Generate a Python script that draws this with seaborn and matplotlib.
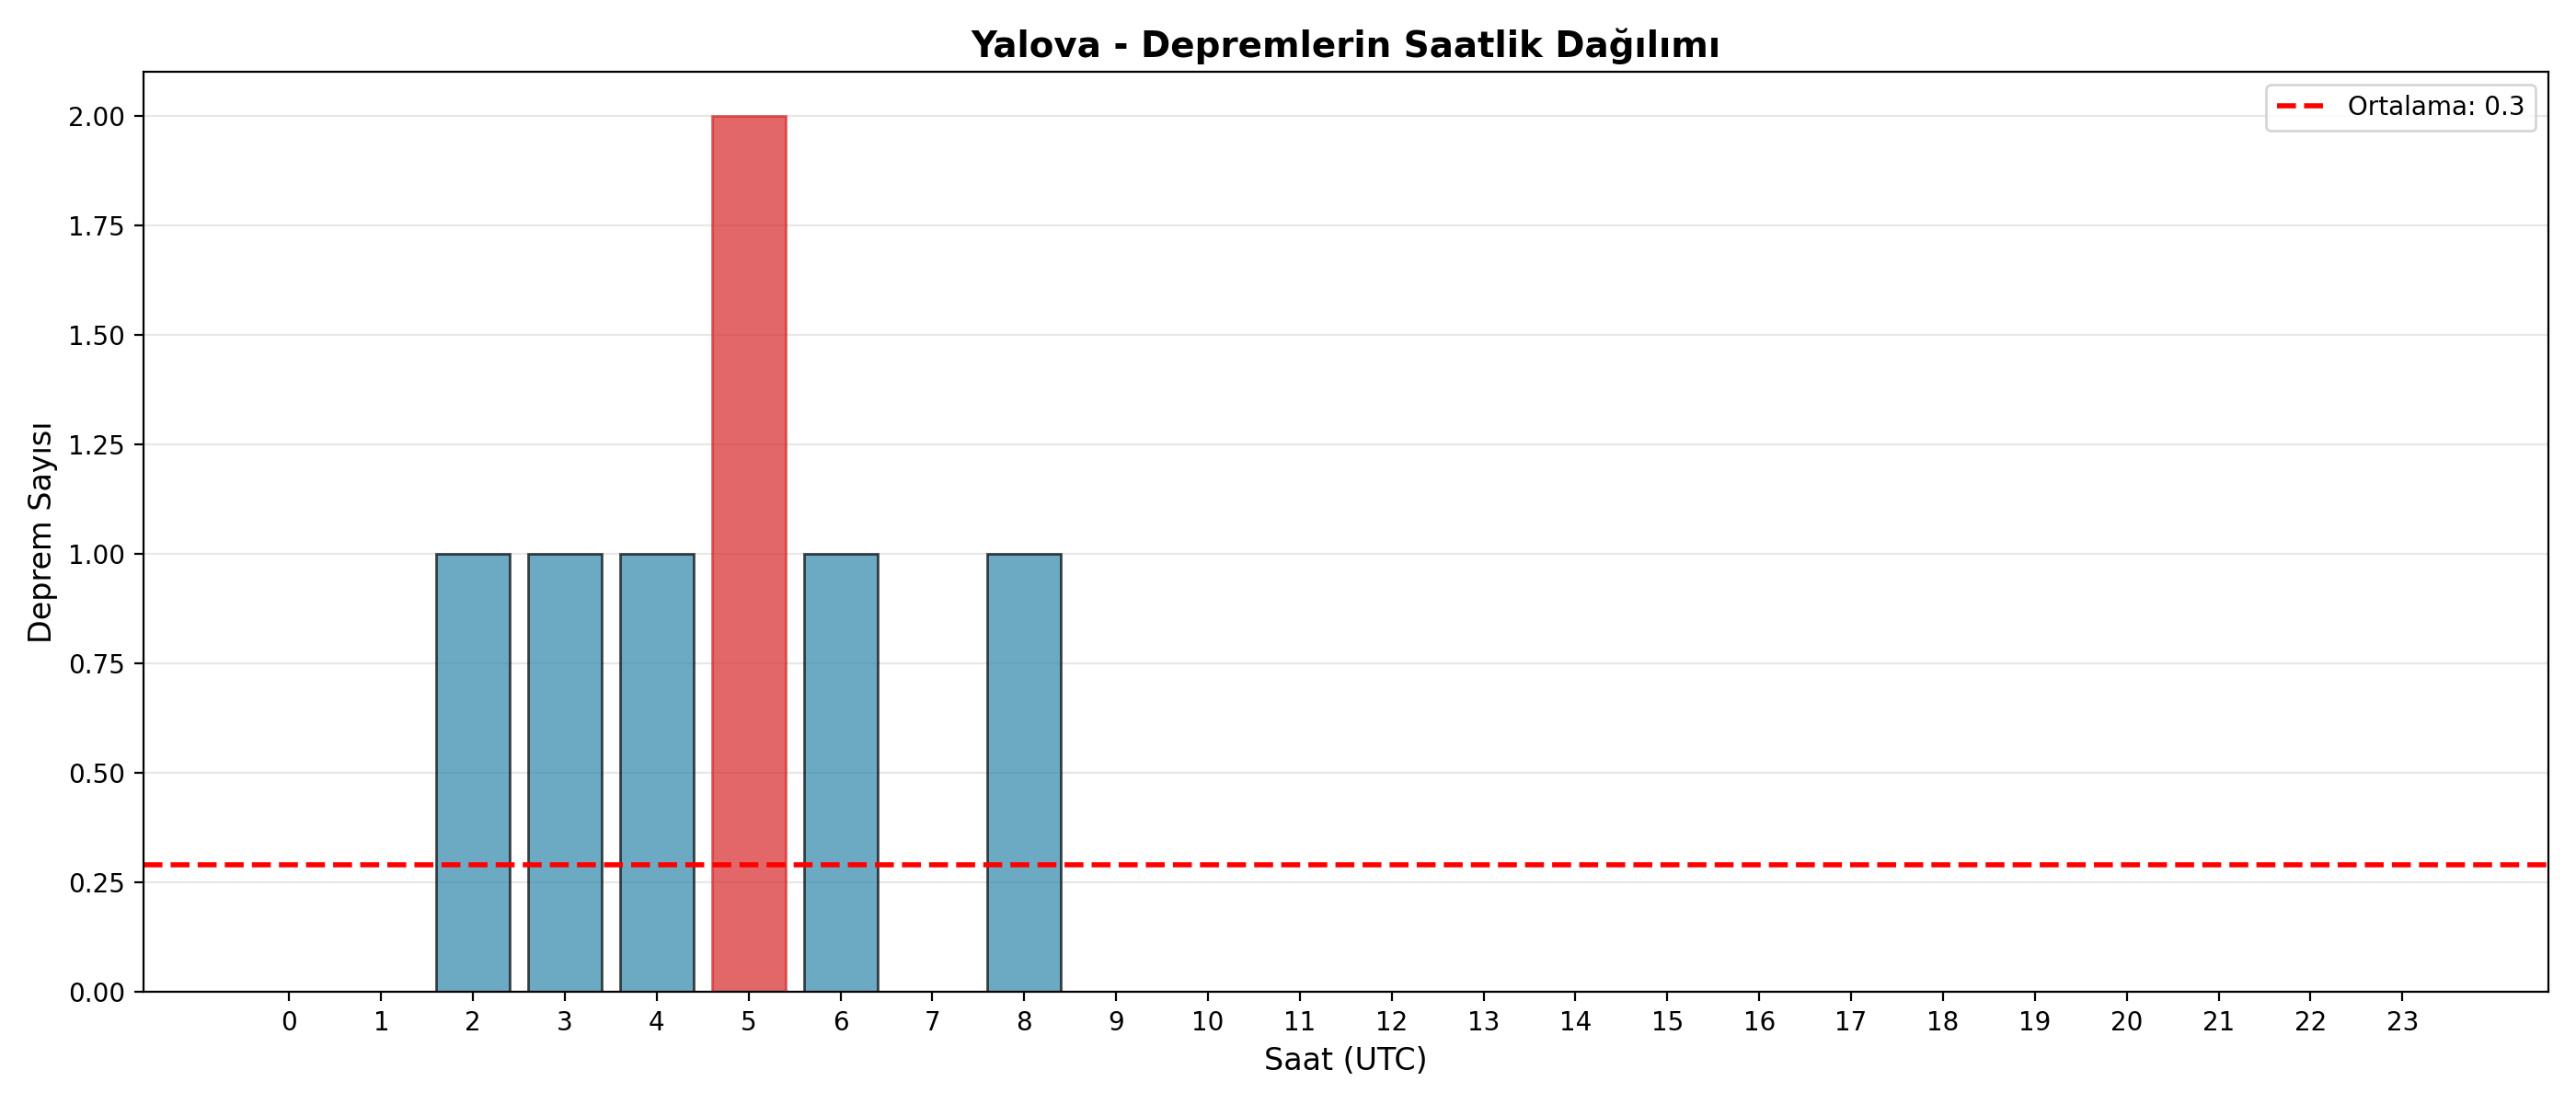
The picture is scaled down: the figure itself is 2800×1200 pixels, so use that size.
import matplotlib
matplotlib.use("Agg")
import matplotlib.pyplot as plt
import seaborn as sns
import numpy as np
import pandas as pd

hours = list(range(24))
counts = [0, 0, 1, 1, 1, 2, 1, 0, 1, 0, 0, 0, 0, 0, 0, 0, 0, 0, 0, 0, 0, 0, 0, 0]
title = "Yalova - Depremlerin Saatlik Dağılımı"
xlabel = "Saat (UTC)"
ylabel = "Deprem Sayısı"

mean_val = float(np.mean(counts))

df = pd.DataFrame({"hour": hours, "count": counts})

fig, ax = plt.subplots(figsize=(14, 6), dpi=200)
sns.barplot(data=df, x="hour", y="count", color="#2E86AB", alpha=0.7,
            edgecolor="black", saturation=1, width=0.8, ax=ax,
            order=hours, errorbar=None)
imax = int(np.argmax(counts))
ax.patches[imax].set_color("#d62728")

ax.axhline(mean_val, color="red", linestyle="--", linewidth=2,
           label=f"Ortalama: {mean_val:.1f}")

ax.set_xlim(-1.59, 24.59)
ax.set_xticks(hours)
ax.set_xticklabels([str(h) for h in hours])
ax.set_ylim(0, 2.1)
ax.set_title(title, fontsize=14, fontweight="bold")
ax.set_xlabel(xlabel, fontsize=12)
ax.set_ylabel(ylabel, fontsize=12)
ax.grid(axis="y", alpha=0.3)
ax.grid(axis="x", visible=False)
ax.set_axisbelow(True)
ax.legend(loc="upper right")
fig.tight_layout()
fig.savefig("out.png", dpi=200)
